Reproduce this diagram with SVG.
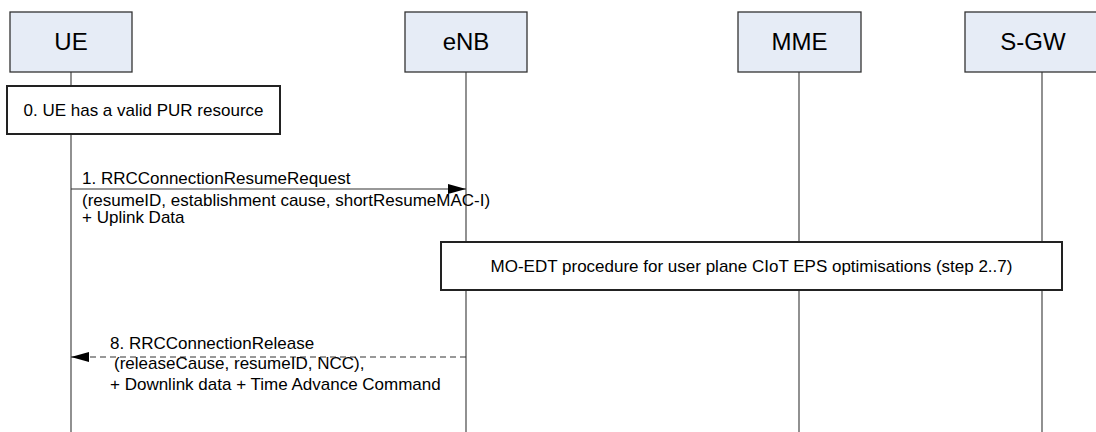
<svg xmlns="http://www.w3.org/2000/svg" width="1096" height="432" viewBox="0 0 1096 432">
<defs>
<style>
.hdr{fill:#e6ecf6;stroke:#333;stroke-width:1.3}
.hdrt{font-family:"Liberation Sans",Arial,sans-serif;font-size:24px;fill:#000;text-anchor:middle}
.life{stroke:#555;stroke-width:1.3;fill:none}
.act{fill:#fff;stroke:#222;stroke-width:2}
.t{font-family:"Liberation Sans",Arial,sans-serif;font-size:17px;fill:#000}
.msg{stroke:#333;stroke-width:1.2;fill:none}
.dash{stroke-dasharray:6 4}
</style>
<marker id="ah" markerWidth="18" markerHeight="10" refX="18" refY="5" orient="auto" markerUnits="userSpaceOnUse">
<path d="M0,0 L18,5 L0,10 Z" fill="#000"/>
</marker>
</defs>
<rect width="1096" height="432" fill="#fff"/>
<g id="lifelines">
<line class="life" x1="71" y1="72" x2="71" y2="432"/>
<line class="life" x1="466" y1="72" x2="466" y2="432"/>
<line class="life" x1="799" y1="72" x2="799" y2="432"/>
<line class="life" x1="1042" y1="72" x2="1042" y2="432"/>
</g>
<g id="UE"><rect class="hdr" x="10" y="12" width="122" height="60"/><text class="hdrt" x="71" y="50">UE</text></g>
<g id="eNB"><rect class="hdr" x="405" y="12" width="122" height="60"/><text class="hdrt" x="466" y="50">eNB</text></g>
<g id="MME"><rect class="hdr" x="738" y="12" width="123" height="60"/><text class="hdrt" x="799.5" y="50">MME</text></g>
<g id="SGW"><rect class="hdr" x="965" y="12" width="136" height="60"/><text class="hdrt" x="1033" y="50">S-GW</text></g>
<g id="step0"><rect class="act" x="7" y="86" width="273" height="48"/><text class="t" x="143.5" y="116" text-anchor="middle">0. UE has a valid PUR resource</text></g>
<g id="step2to7"><rect class="act" x="441" y="242" width="621" height="48"/><text class="t" x="751.5" y="272" text-anchor="middle">MO-EDT procedure for user plane CIoT EPS optimisations (step 2..7)</text></g>
<g id="connectors">
<line class="msg" x1="71" y1="189" x2="466" y2="189" marker-end="url(#ah)"/>
<line class="msg dash" x1="466" y1="357" x2="71" y2="357" marker-end="url(#ah)"/>
</g>
<g id="labels">
<text class="t" x="82" y="184">1. RRCConnectionResumeRequest</text>
<text class="t" x="82" y="206">(resumeID, establishment cause, shortResumeMAC-I)</text>
<text class="t" x="82" y="223">+ Uplink Data</text>
<text class="t" x="110" y="349">8. RRCConnectionRelease</text>
<text class="t" x="114" y="369">(releaseCause, resumeID, NCC),</text>
<text class="t" x="110" y="390">+ Downlink data + Time Advance Command</text>
</g>
</svg>
